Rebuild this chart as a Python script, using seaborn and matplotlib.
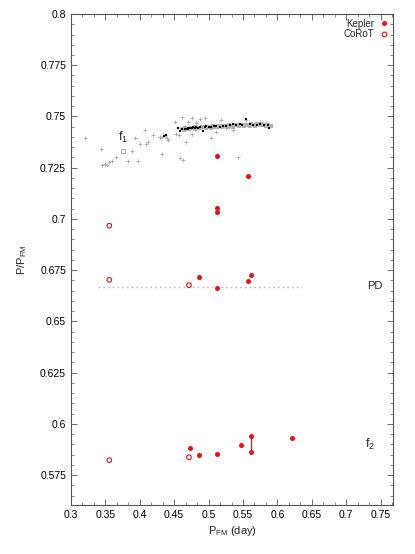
import numpy as np
import pandas as pd
import seaborn as sns
import matplotlib.pyplot as plt
from matplotlib.ticker import MultipleLocator, AutoMinorLocator, FuncFormatter
from matplotlib.lines import Line2D

# ---------------------------------------------------------
# DATA
# ---------------------------------------------------------
# Kepler stars (filled red)
kepler_p = [0.512, 0.557, 0.512, 0.512,
            0.4864, 0.512, 0.557, 0.5615,
            0.473, 0.4864, 0.512, 0.5467, 0.5615, 0.5615, 0.6216]
kepler_r = [0.7308, 0.7211, 0.7055, 0.7034,
            0.6718, 0.6664, 0.6698, 0.6725,
            0.5883, 0.5846, 0.5854, 0.5895, 0.5939, 0.5861, 0.5931]

# CoRoT stars (open red)
corot_p = [0.3557, 0.3557, 0.4715, 0.3557, 0.4715]
corot_r = [0.6967, 0.6703, 0.6677, 0.5823, 0.5837]

# same star, two f2 peaks (joined)
pair_p = [0.5615, 0.5615]
pair_r = [0.5939, 0.5861]

# f1 ridge, scattered stars (light grey)
grey_p = [0.3210, 0.3436, 0.3489, 0.3523, 0.3557, 0.3595, 0.3658, 0.3836,
          0.3884, 0.3933, 0.3981, 0.4005, 0.4077, 0.4092, 0.4125, 0.4198,
          0.4294, 0.4318, 0.4390, 0.4415, 0.4511, 0.4525, 0.4574, 0.4583,
          0.4607, 0.4631, 0.4670, 0.4704, 0.4752, 0.4766, 0.4824, 0.4872,
          0.4945, 0.5041, 0.5113, 0.5186, 0.5258, 0.5354, 0.5427, 0.5547,
          0.5740, 0.5836, 0.5885, 0.4300, 0.4330, 0.4360, 0.3450, 0.3500]
grey_r = [0.7393, 0.7339, 0.7268, 0.7263, 0.7279, 0.7284, 0.7304, 0.7284,
          0.7331, 0.7393, 0.7284, 0.7364, 0.7434, 0.7364, 0.7377, 0.7409,
          0.7401, 0.7317, 0.7393, 0.7385, 0.7475, 0.7413, 0.7409, 0.7296,
          0.7499, 0.7287, 0.7377, 0.7475, 0.7494, 0.7414, 0.7467, 0.7488,
          0.7494, 0.7396, 0.7426, 0.7483, 0.7442, 0.7434, 0.7304, 0.7483,
          0.7475, 0.7467, 0.7455, 0.7401, 0.7402, 0.7403, 0.7262, 0.7270]

# dense part of the f1 ridge (grey band)
band_p = [0.462, 0.466, 0.470, 0.474, 0.478, 0.482, 0.486, 0.490, 0.494,
          0.498, 0.502, 0.506, 0.510, 0.514, 0.518, 0.522, 0.526, 0.530,
          0.534, 0.538, 0.542, 0.546, 0.550, 0.554, 0.558, 0.562, 0.566,
          0.570, 0.574, 0.578, 0.582, 0.586, 0.590,
          0.464, 0.472, 0.480, 0.488, 0.496, 0.504, 0.512, 0.520, 0.528,
          0.536, 0.544, 0.552, 0.560, 0.568, 0.576, 0.584, 0.588]
band_r = [0.7440, 0.7443, 0.7441, 0.7446, 0.7444, 0.7448, 0.7446, 0.7450,
          0.7447, 0.7451, 0.7449, 0.7452, 0.7450, 0.7454, 0.7452, 0.7455,
          0.7453, 0.7457, 0.7455, 0.7458, 0.7456, 0.7459, 0.7457, 0.7460,
          0.7458, 0.7461, 0.7459, 0.7461, 0.7460, 0.7462, 0.7460, 0.7458,
          0.7455,
          0.7436, 0.7438, 0.7441, 0.7443, 0.7444, 0.7446, 0.7447, 0.7449,
          0.7450, 0.7451, 0.7452, 0.7453, 0.7454, 0.7455, 0.7456, 0.7454,
          0.7452]

# best-studied stars (black)
black_p = [0.4352, 0.4381, 0.4550, 0.4583, 0.4607, 0.4656, 0.4680, 0.4704,
           0.4728, 0.4752, 0.4776, 0.4800, 0.4824, 0.4848, 0.4880, 0.4921,
           0.4945, 0.4969, 0.5000, 0.5041, 0.5080, 0.5113, 0.5162, 0.5210,
           0.5258, 0.5306, 0.5354, 0.5403, 0.5451, 0.5490, 0.5537, 0.5595,
           0.5644, 0.5700, 0.5740, 0.5800, 0.5860, 0.5875, 0.4620, 0.4700]
black_r = [0.7406, 0.7409, 0.7442, 0.7429, 0.7437, 0.7439, 0.7441, 0.7445,
           0.7443, 0.7442, 0.7447, 0.7445, 0.7447, 0.7445, 0.7448, 0.7431,
           0.7449, 0.7455, 0.7450, 0.7450, 0.7452, 0.7453, 0.7450, 0.7452,
           0.7453, 0.7458, 0.7461, 0.7458, 0.7461, 0.7459, 0.7488, 0.7461,
           0.7458, 0.7460, 0.7461, 0.7459, 0.7458, 0.7445, 0.7439, 0.7437]

# odd point near the f1 label
square_p = [0.376]
square_r = [0.7331]

# period doubling level
PD_LEVEL = 2.0 / 3.0
PD_FROM, PD_TO = 0.34, 0.636

# ---------------------------------------------------------
# PLOT
# ---------------------------------------------------------
sns.set_style("ticks")
plt.rcParams['font.family'] = ['Liberation Sans', 'DejaVu Sans']
plt.rcParams['xtick.direction'] = 'in'
plt.rcParams['ytick.direction'] = 'in'
plt.rcParams['xtick.top'] = True
plt.rcParams['ytick.right'] = True
plt.rcParams['axes.linewidth'] = 0.8

RED = '#ee1111'

fig = plt.figure(figsize=(4.15, 5.54), dpi=100)
ax = fig.add_axes([0.171, 0.0884, 0.776, 0.8863])

ax.hlines(PD_LEVEL, PD_FROM, PD_TO, colors='#bbbbbb', linestyles=(0, (1.2, 2.2)), linewidth=1.0, zorder=1)

sns.scatterplot(x=grey_p, y=grey_r, ax=ax, color='#aaaaaa', marker='+', s=5, linewidth=0.6, zorder=2)
sns.scatterplot(x=band_p, y=band_r, ax=ax, color='#b0b0b0', marker='s', s=5, linewidth=0, zorder=2)
sns.scatterplot(x=black_p, y=black_r, ax=ax, color='black', marker='s', s=3.5, linewidth=0, zorder=3)
sns.scatterplot(x=square_p, y=square_r, ax=ax, marker='s', s=10, facecolor='none',
                edgecolor='#999999', linewidth=0.6, zorder=3)

ax.plot(pair_p, pair_r, color=RED, linewidth=1.0, zorder=3)
sns.scatterplot(x=kepler_p, y=kepler_r, ax=ax, color=RED, marker='o', s=13, linewidth=0, zorder=4)
sns.scatterplot(x=corot_p, y=corot_r, ax=ax, marker='o', s=11, facecolor='none',
                edgecolor=RED, linewidth=0.8, zorder=4)

ax.text(0.375, 0.7400, r'f$_\mathregular{1}$', fontsize=9, ha='center', va='center')
ax.text(0.741, 0.6673, 'PD', fontsize=8, ha='center', va='center')
ax.text(0.734, 0.5900, r'f$_\mathregular{2}$', fontsize=9, ha='center', va='center')

ax.set_xlim(0.3, 0.768)
ax.set_ylim(0.5604, 0.8)
ax.xaxis.set_major_locator(MultipleLocator(0.05))
ax.xaxis.set_minor_locator(AutoMinorLocator(3))
ax.yaxis.set_major_locator(MultipleLocator(0.025))
ax.yaxis.set_minor_locator(AutoMinorLocator(5))
fmt = FuncFormatter(lambda v, pos: f'{v:g}')
ax.xaxis.set_major_formatter(fmt)
ax.yaxis.set_major_formatter(fmt)
ax.tick_params(which='major', length=4, width=0.6, labelsize=7.5, colors='#555555', labelcolor='black')
ax.tick_params(which='minor', length=2, width=0.5, colors='#555555')
for sp in ax.spines.values():
    sp.set_color('#555555')

ax.set_xlabel(r'P$_\mathregular{FM}$ (day)', fontsize=8, labelpad=3)
ax.set_ylabel(r'P/P$_\mathregular{FM}$', fontsize=8, labelpad=8)

handles = [Line2D([], [], linestyle='none', marker='o', markersize=3.6, color=RED, markeredgewidth=0),
           Line2D([], [], linestyle='none', marker='o', markersize=3.4, markerfacecolor='none',
                  markeredgecolor=RED, markeredgewidth=0.8)]
ax.legend(handles, ['Kepler', 'CoRoT'], loc='upper right', frameon=False, markerfirst=False,
          fontsize=7, handlelength=0.8, handletextpad=0.6, labelspacing=0.05,
          borderaxespad=0.3, borderpad=0.2)

fig.savefig('out.png', dpi=100)
